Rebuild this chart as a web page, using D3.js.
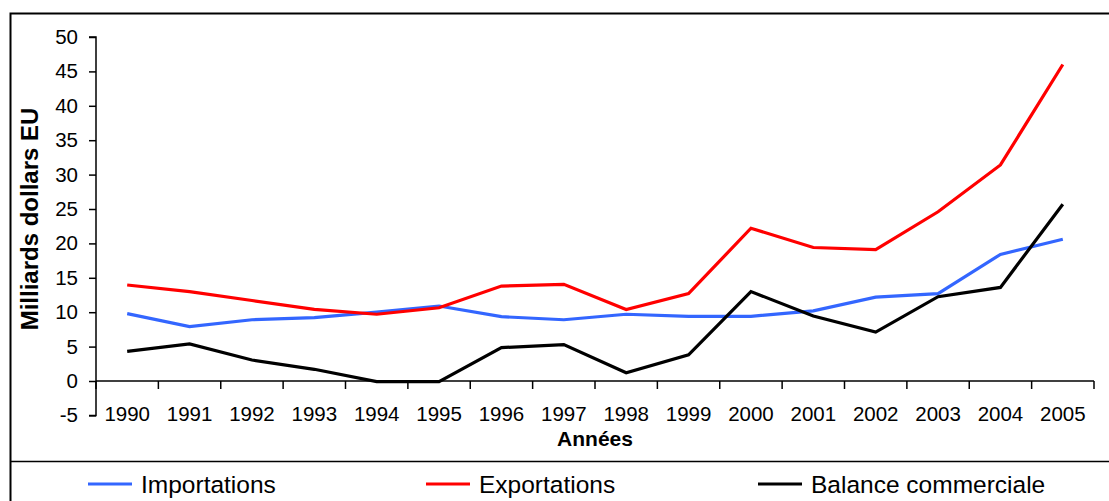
<!DOCTYPE html>
<html><head><meta charset="utf-8">
<script src="https://cdn.jsdelivr.net/npm/d3@7"></script>
<style>body{margin:0;background:#fff}svg{display:block}</style>
</head><body>
<svg id="c" width="1109" height="501"></svg>
<script>
const years = ["1990","1991","1992","1993","1994","1995","1996","1997","1998","1999","2000","2001","2002","2003","2004","2005"];
const importations = [9.8,7.9,8.9,9.2,10.0,10.9,9.35,8.9,9.7,9.4,9.4,10.2,12.2,12.7,18.4,20.6];
const exportations = [13.95,13.0,11.7,10.4,9.7,10.65,13.8,14.05,10.4,12.7,22.2,19.4,19.1,24.6,31.4,46.0];
const balance = [4.3,5.4,3.05,1.7,-0.1,-0.1,4.85,5.3,1.2,3.8,13.0,9.45,7.1,12.25,13.6,25.7];
const yTicks = [-5,0,5,10,15,20,25,30,35,40,45,50];
const seriesNames = ["Importations","Exportations","Balance commerciale"];
const seriesColors = ["#3366FF","#FF0000","#000000"];

const svg = d3.select("#c");
const font = "Liberation Sans, Arial, sans-serif";

// outer frame
svg.append("rect").attr("x",10.5).attr("y",13.5).attr("width",1110).attr("height",500)
  .attr("fill","none").attr("stroke","#000").attr("stroke-width",2);
svg.append("line").attr("x1",10).attr("x2",1109).attr("y1",461.5).attr("y2",461.5)
  .attr("stroke","#000").attr("stroke-width",1.5);

const x = d3.scaleBand().domain(years).range([96,1094]).padding(0);
const y = d3.scaleLinear().domain([-5,50]).range([415.4,37]);

// y axis
const ya = svg.append("g").attr("transform","translate(96,0)")
  .call(d3.axisLeft(y).tickValues(yTicks).tickSize(7).tickPadding(11).tickFormat(d => String(d)));
ya.select(".domain").attr("stroke","#000").attr("stroke-width",1.5).attr("d","M-7,"+y(50)+"H0V"+y(-5)+"H-7");
ya.selectAll(".tick line").attr("stroke","#000").attr("stroke-width",1.5);
ya.selectAll("text").attr("font-family",font).attr("font-size",20.5).attr("fill","#000");

// x axis at y=0
const xa = svg.append("g").attr("transform","translate(0,"+y(0)+")")
  .call(d3.axisBottom(x).tickSize(0).tickPadding(0));
xa.select(".domain").attr("stroke","#000").attr("stroke-width",1.5).attr("d","M96,0H1094");
xa.selectAll(".tick text").attr("font-family",font).attr("font-size",20.5).attr("fill","#000")
  .attr("dy",0).attr("y",40);
const bounds = years.map(d=>x(d)).concat([x(years[years.length-1])+x.bandwidth()]);
xa.selectAll(".sep").data(bounds).enter().append("line").attr("class","sep")
  .attr("x1",d=>d).attr("x2",d=>d).attr("y1",0).attr("y2",8)
  .attr("stroke","#000").attr("stroke-width",1.5);

// axis titles
svg.append("text").attr("x",595).attr("y",446).attr("text-anchor","middle")
  .attr("font-family",font).attr("font-weight","bold").attr("font-size",21).text("Années");
svg.append("text").attr("transform","translate(38,219) rotate(-90)").attr("text-anchor","middle")
  .attr("font-family",font).attr("font-weight","bold").attr("font-size",24).text("Milliards dollars EU");

// lines
const line = d3.line().x((d,i)=>x(years[i])+x.bandwidth()/2).y(d=>y(d));
[importations, exportations, balance].forEach((s,k)=>{
  svg.append("path").datum(s).attr("d",line).attr("fill","none")
    .attr("stroke",seriesColors[k]).attr("stroke-width",3.2).attr("stroke-linejoin","miter");
});

// legend
const legX = [88,426,758];
seriesNames.forEach((n,k)=>{
  const g = svg.append("g").attr("transform","translate("+legX[k]+",484)");
  g.append("line").attr("x1",0).attr("x2",44).attr("y1",0).attr("y2",0)
    .attr("stroke",seriesColors[k]).attr("stroke-width",3.2);
  g.append("text").attr("x",53).attr("y",9).attr("font-family",font).attr("font-size",24.5).text(n);
});
</script>
</body></html>
